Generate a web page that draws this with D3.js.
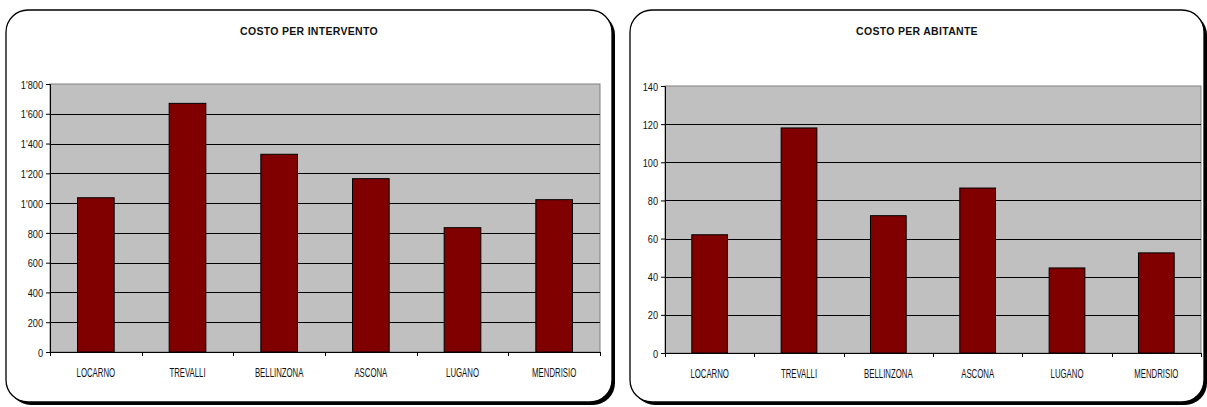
<!DOCTYPE html>
<html>
<head>
<meta charset="utf-8">
<script src="https://cdn.jsdelivr.net/npm/d3@7"></script>
<style>
  body { margin: 0; background: #fff; }
  svg { display: block; font-family: "Liberation Sans", Arial, sans-serif; }
</style>
</head>
<body>
<svg id="chart" width="1207" height="407"></svg>
<script>
const categories = ['LOCARNO', 'TREVALLI', 'BELLINZONA', 'ASCONA', 'LUGANO', 'MENDRISIO'];
const costoIntervento = [1036, 1670, 1328, 1164, 835, 1023];
const costoAbitante = [62, 118, 72, 86.5, 44.6, 52.5];
const ticksIntervento = [0, 200, 400, 600, 800, 1000, 1200, 1400, 1600, 1800];
const ticksAbitante = [0, 20, 40, 60, 80, 100, 120, 140];

const swiss = d3.formatLocale({decimal: '.', thousands: "'", grouping: [3], currency: ['', '']}).format(',');

const svg = d3.select('#chart');

function buildPanel(opts) {
  // panel with shadow
  svg.append('rect')
    .attr('x', opts.px + 3).attr('y', opts.py + 3)
    .attr('width', opts.pw).attr('height', opts.ph)
    .attr('rx', 22).attr('ry', 22)
    .attr('fill', '#000');
  svg.append('rect')
    .attr('x', opts.px).attr('y', opts.py)
    .attr('width', opts.pw).attr('height', opts.ph)
    .attr('rx', 22).attr('ry', 22)
    .attr('fill', '#fff').attr('stroke', '#000').attr('stroke-width', 1.3);

  svg.append('text')
    .attr('x', opts.px + opts.pw / 2).attr('y', 35)
    .attr('text-anchor', 'middle')
    .style('font-size', '10.5px').style('font-weight', 'bold')
    .style('letter-spacing', '0.3px')
    .attr('fill', '#111')
    .text(opts.title);

  let x = d3.scaleBand().domain(categories).range([opts.left, opts.right]).paddingInner(0).paddingOuter(0);
  let y = d3.scaleLinear().domain([0, opts.ticks[opts.ticks.length - 1]]).range([opts.bottom, opts.top]);

  let g = svg.append('g');

  g.append('rect')
    .attr('x', opts.left).attr('y', opts.top)
    .attr('width', opts.right - opts.left).attr('height', opts.bottom - opts.top)
    .attr('fill', '#C0C0C0').attr('stroke', '#808080').attr('stroke-width', 1);

  // gridlines
  g.selectAll('.grid')
    .data(opts.ticks.slice(1, -1))
    .enter().append('line')
    .attr('x1', opts.left).attr('x2', opts.right)
    .attr('y1', d => Math.round(y(d)) + 0.5).attr('y2', d => Math.round(y(d)) + 0.5)
    .attr('stroke', '#000').attr('stroke-width', 1);

  // bars
  let bw = x.bandwidth() * 0.4;
  g.selectAll('.bar')
    .data(opts.values)
    .enter().append('rect')
    .attr('x', (d, i) => x(categories[i]) + (x.bandwidth() - bw) / 2)
    .attr('y', d => y(d))
    .attr('width', bw)
    .attr('height', d => opts.bottom - y(d))
    .attr('fill', '#800000')
    .attr('stroke', '#000').attr('stroke-width', 1);

  // y axis
  let ya = g.append('g')
    .attr('transform', 'translate(' + opts.left + ',0)')
    .call(d3.axisLeft(y).tickValues(opts.ticks).tickSize(4).tickPadding(3).tickFormat(swiss));
  ya.select('.domain').attr('stroke', '#000');
  ya.selectAll('text')
    .attr('x', -7 / 0.8)
    .attr('dy', '0.36em')
    .attr('transform', 'scale(0.8,1)')
    .style('font-size', '11.5px').style('font-family', '"Liberation Sans", Arial, sans-serif')
    .attr('fill', '#111');

  // x axis
  let xa = g.append('g')
    .attr('transform', 'translate(0,' + opts.bottom + ')')
    .call(d3.axisBottom(x).tickSize(0).tickPadding(0));
  xa.select('.domain').attr('stroke', '#000');
  xa.selectAll('text')
    .attr('y', 25).attr('dy', 0)
    .attr('transform', 'scale(0.65,1)')
    .style('font-size', '12px').style('font-family', '"Liberation Sans", Arial, sans-serif')
    .attr('fill', '#111');

  let bounds = categories.map(c => x(c)).concat([x.range()[1]]);
  g.selectAll('.xtick')
    .data(bounds)
    .enter().append('line')
    .attr('x1', d => Math.round(d) + 0.5).attr('x2', d => Math.round(d) + 0.5)
    .attr('y1', opts.bottom).attr('y2', opts.bottom + 4)
    .attr('stroke', '#000');
}

buildPanel({
  px: 6, py: 10, pw: 606, ph: 392,
  title: 'COSTO PER INTERVENTO',
  left: 50, right: 600, top: 84, bottom: 352,
  values: costoIntervento, ticks: ticksIntervento
});

buildPanel({
  px: 630, py: 10, pw: 574, ph: 392,
  title: 'COSTO PER ABITANTE',
  left: 665, right: 1201, top: 86, bottom: 353,
  values: costoAbitante, ticks: ticksAbitante
});
</script>
</body>
</html>
